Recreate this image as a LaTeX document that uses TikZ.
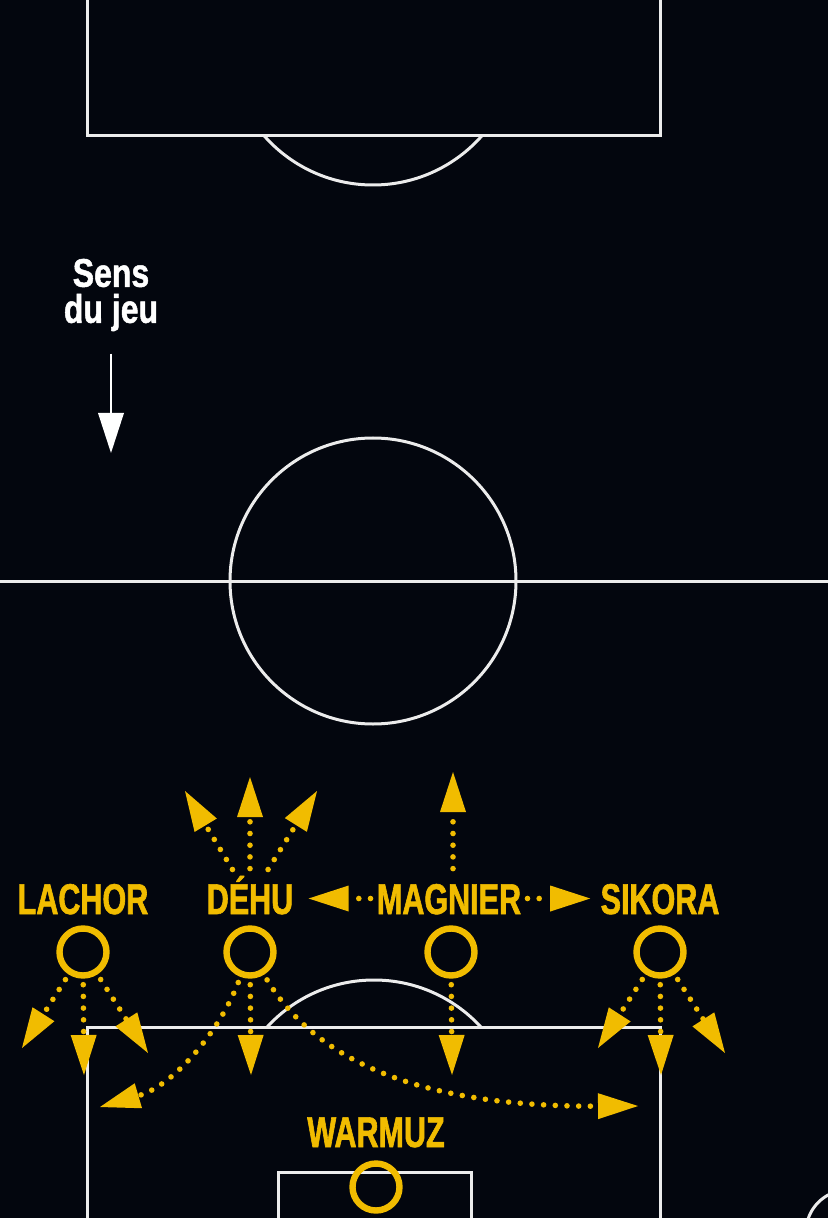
\documentclass[tikz,border=0pt]{standalone}
\usepackage{fontspec}
\newfontfamily\capfont[FakeStretch=0.71, FakeBold=1.4]{Liberation Sans}
\newfontfamily\sensfont[FakeStretch=0.8, FakeBold=1.2]{Liberation Sans}
\usetikzlibrary{arrows.meta}
\definecolor{pitchbg}{RGB}{3,6,14}
\definecolor{chalk}{RGB}{236,236,236}
\definecolor{gold}{RGB}{241,188,0}

\begin{document}
\begin{tikzpicture}[x=0.5pt, y=-0.5pt]
        \tikzstyle{pitchline} = [draw=chalk, line width=1.5pt]
        \tikzstyle{playerring} = [circle, draw=gold, line width=3.2pt, minimum size=23.5pt, inner sep=0pt]
        \tikzstyle{playername} = [text=gold, font=\capfont\bfseries\fontsize{21.5}{22}\selectfont, anchor=base, text height=15.5pt, text depth=0pt, inner xsep=0pt, inner ysep=4pt]
        \tikzstyle{runarrow} = [draw=gold, line width=2.8pt, line cap=round, dash pattern=on 0pt off 5.85pt, shorten <=3pt, -{Triangle[length=20pt, width=13pt, line width=0pt]}]
        \tikzstyle{playdir} = [draw=white, line width=1pt, -{Triangle[length=20pt, width=13pt, line width=0pt]}]

        \useasboundingbox (0,0) rectangle (828,1218);
        \fill[pitchbg] (0,0) rectangle (828,1218);
        \clip (0,0) rectangle (828,1218);

        % pitch
        \draw[pitchline] (87,-20) rectangle (660,136);
        \begin{scope}
            \clip (0,136) rectangle (828,400);
            \draw[pitchline] (373,40) circle (145);
        \end{scope}
        \draw[pitchline] (0,581) -- (828,581);
        \draw[pitchline] (373,581) circle (143);
        \draw[pitchline] (87,1027) rectangle (660,1300);
        \begin{scope}
            \clip (0,900) rectangle (828,1027);
            \draw[pitchline] (374,1125) circle (145);
        \end{scope}
        \draw[pitchline] (278,1172) rectangle (471,1300);
        \draw[pitchline] (848,1232) circle (42);

        % direction of play
        \node (sens) [text=white, font=\sensfont\bfseries\fontsize{20}{18}\selectfont, align=center, inner sep=0pt] at (111,295) {Sens\\du jeu};
        \coordinate (sensend) at (111,453);
        \draw[playdir, shorten <=11pt] (sens) -- (sensend);

        % players
        \node (lachor) [playerring] at (83,952) {};
        \node (dehu) [playerring] at (250,952) {};
        \node (magnier) [playerring] at (451,952) {};
        \node (sikora) [playerring] at (660,952) {};
        \node (warmuz) [playerring] at (376,1187) {};

        \node (lachorlbl) [playername] at (83,914) {LACHOR};
        \node (dehulbl) [playername] at (250,914) {DÉHU};
        \node (magnierlbl) [playername] at (449,914) {MAGNIER};
        \node (sikoralbl) [playername] at (660,914) {SIKORA};
        \node (warmuzlbl) [playername] at (376,1147) {WARMUZ};

        \coordinate (lachorL) at (22,1048);
        \coordinate (lachorC) at (84,1075);
        \coordinate (lachorR) at (148,1053);
        \coordinate (sikoraL) at (598,1048);
        \coordinate (sikoraC) at (661,1075);
        \coordinate (sikoraR) at (725,1053);
        \coordinate (dehuL) at (185,791);
        \coordinate (dehuC) at (250,777);
        \coordinate (dehuR) at (317,791);
        \coordinate (dehuD) at (251,1075);
        \coordinate (dehuBL) at (100,1107);
        \coordinate (dehuBR) at (638,1106);
        \coordinate (magU) at (453,772);
        \coordinate (magD) at (452,1075);

        % runs
        \draw[runarrow] (lachor) -- (lachorL);
        \draw[runarrow] (lachor) -- (lachorC);
        \draw[runarrow] (lachor) -- (lachorR);
        \draw[runarrow] (sikora) -- (sikoraL);
        \draw[runarrow] (sikora) -- (sikoraC);
        \draw[runarrow] (sikora) -- (sikoraR);
        \draw[runarrow] (dehulbl) -- (dehuL);
        \draw[runarrow] (dehulbl) -- (dehuC);
        \draw[runarrow] (dehulbl) -- (dehuR);
        \draw[runarrow] (dehu) -- (dehuD);
        \draw[runarrow] (dehu) .. controls (220,1030) and (175,1085) .. (dehuBL);
        \draw[runarrow] (dehu) .. controls (310,1050) and (400,1107) .. (dehuBR);
        \draw[runarrow] (magnierlbl.north -| magU) -- (magU);
        \draw[runarrow] (magnier) -- (magD);
        \draw[runarrow, shorten >=7.5pt] (magnierlbl) -- (dehulbl);
        \draw[runarrow, shorten >=5pt] (magnierlbl) -- (sikoralbl);

    \end{tikzpicture}
\end{document}
